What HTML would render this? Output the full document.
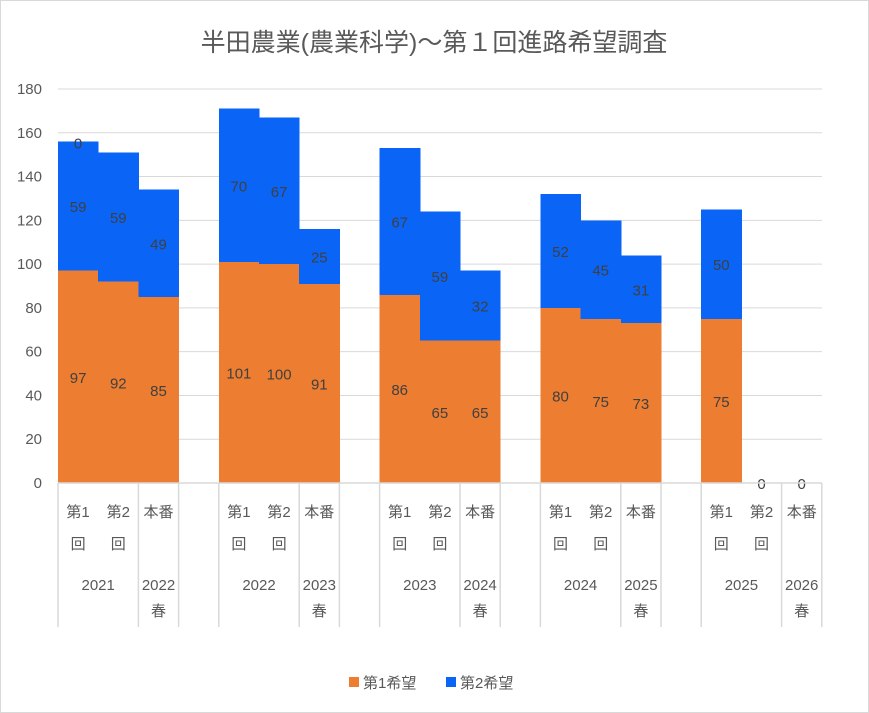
<!DOCTYPE html>
<html><head><meta charset="utf-8"><style>
body{margin:0;background:#fff;}
svg{display:block;font-family:"Liberation Sans","Noto Sans CJK JP",sans-serif;}
</style></head><body>
<svg id="c" width="869" height="713">
<rect x="0.5" y="0.5" width="868" height="712" fill="#fff" stroke="#d9d9d9"/>
<text x="434" y="51" text-anchor="middle" font-size="25" fill="#595959">半田農業(農業科学)～第１回進路希望調査</text>
<g id="grid"></g><g id="bars" shape-rendering="crispEdges"></g><g id="labels"></g><g id="axis"></g>
<g>
<rect x="349" y="677" width="10" height="10" fill="#ed7d31"/>
<text x="363" y="688" font-size="15" fill="#595959">第1希望</text>
<rect x="446" y="677" width="10" height="10" fill="#0a64f5"/>
<text x="460" y="688" font-size="15" fill="#595959">第2希望</text>
</g>
</svg>
<script>
const slots=[0,1,2,4,5,6,8,9,10,12,13,14,16,17,18];
const catLabels=[["第1","回"],["第2","回"],["本番"],["第1","回"],["第2","回"],["本番"],["第1","回"],["第2","回"],["本番"],["第1","回"],["第2","回"],["本番"],["第1","回"],["第2","回"],["本番"]];
const groupLabels=[["2021"],["2022","春"],["2022"],["2023","春"],["2023"],["2024","春"],["2024"],["2025","春"],["2025"],["2026","春"]];
const groupSpans=[[0,2],[2,3],[4,6],[6,7],[8,10],[10,11],[12,14],[14,15],[16,18],[18,19]];
const first=[97,92,85,101,100,91,86,65,65,80,75,73,75,0,0];
const second=[59,59,49,70,67,25,67,59,32,52,45,31,50,null,null];
const third=[0,null,null,null,null,null,null,null,null,null,null,null,null,null,null];
const ticks=[0,20,40,60,80,100,120,140,160,180];
const X0=58,SW=40.2,Y0=483,YT=89,YMAX=180;
const ys=v=>Y0-(v/YMAX)*(Y0-YT);
const xs=s=>X0+s*SW;
const NS="http://www.w3.org/2000/svg";
function mk(t,a,p){const e=document.createElementNS(NS,t);for(const k in a)e.setAttribute(k,a[k]);p.appendChild(e);return e;}
const G=document.getElementById('grid'),B=document.getElementById('bars'),L=document.getElementById('labels'),A=document.getElementById('axis');
ticks.forEach(t=>{
 const l=mk('line',{x1:X0,x2:822,y1:ys(t),y2:ys(t),stroke:'#d9d9d9','stroke-width':1},G);
 
 
 const tx=mk('text',{x:42,y:ys(t)+5,'text-anchor':'end','font-size':15,fill:'#595959'},A);
 tx.textContent=t;
 
 
});
slots.forEach((s,i)=>{
 const x=xs(s);
 const r1=mk('rect',{x:x,y:ys(first[i]),width:SW+0.5,height:Y0-ys(first[i]),fill:'#ed7d31'},B);
 
 
 const t1=mk('text',{x:x+SW/2,y:(ys(first[i])+Y0)/2+6,'text-anchor':'middle','font-size':15,fill:'#404040'},L);
 t1.textContent=first[i];
 
 
 let top=first[i];
 if(second[i]!==null){
  top=first[i]+second[i];
  const r2=mk('rect',{x:x,y:ys(top),width:SW+0.5,height:ys(first[i])-ys(top),fill:'#0a64f5'},B);
  
  
  const t2=mk('text',{x:x+SW/2,y:(ys(top)+ys(first[i]))/2+6,'text-anchor':'middle','font-size':15,fill:'#404040'},L);
  t2.textContent=second[i];
  
  
 }
 if(third[i]!==null){
  const t3=mk('text',{x:x+SW/2,y:ys(top+third[i])+7,'text-anchor':'middle','font-size':15,fill:'#404040'},L);
  t3.textContent=third[i];
  
  
 }
 catLabels[i].forEach((ln,k)=>{
  const c=mk('text',{x:x+SW/2,y:517+k*32,'text-anchor':'middle','font-size':15,fill:'#595959'},A);
  c.textContent=ln;
  
  
 });
});
const bl=mk('line',{x1:X0,x2:822,y1:Y0,y2:Y0,stroke:'#d9d9d9','stroke-width':1.5},A);


const divs=new Set();
groupSpans.forEach(sp=>{divs.add(sp[0]);divs.add(sp[1]);});
divs.forEach(d=>{
 const l=mk('line',{x1:xs(d),x2:xs(d),y1:Y0,y2:627,stroke:'#d9d9d9','stroke-width':1.5},A);
 
 
});
groupSpans.forEach((sp,i)=>{
 groupLabels[i].forEach((ln,k)=>{
  const g=mk('text',{x:(xs(sp[0])+xs(sp[1]))/2,y:590+k*26,'text-anchor':'middle','font-size':15,fill:'#595959'},A);
  g.textContent=ln;
  
  
 });
});
</script>
</body></html>
